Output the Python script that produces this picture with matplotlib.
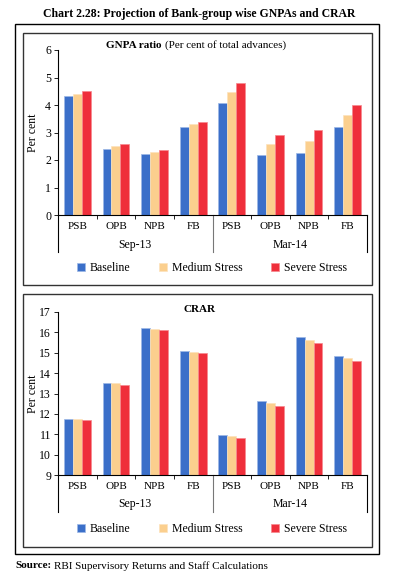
import matplotlib.pyplot as plt
import numpy as np
from matplotlib.patches import Rectangle
from matplotlib.transforms import blended_transform_factory

# data
categories = ["PSB", "OPB", "NPB", "FB", "PSB", "OPB", "NPB", "FB"]
periods = ["Sep-13", "Mar-14"]
series = ["Baseline", "Medium Stress", "Severe Stress"]

gnpa_baseline = [4.33, 2.41, 2.22, 3.21, 4.06, 2.19, 2.27, 3.19]
gnpa_medium = [4.40, 2.50, 2.30, 3.31, 4.47, 2.58, 2.69, 3.64]
gnpa_severe = [4.50, 2.58, 2.36, 3.38, 4.79, 2.90, 3.09, 4.01]

crar_baseline = [11.75, 13.50, 16.20, 15.08, 10.96, 12.65, 15.78, 14.86]
crar_medium = [11.75, 13.50, 16.18, 15.06, 10.90, 12.52, 15.65, 14.72]
crar_severe = [11.70, 13.40, 16.12, 15.00, 10.82, 12.39, 15.50, 14.59]

colors = ["#3b6fc9", "#fbcf8e", "#ef2f3b"]
edges = ["#9db8e6", "#fde3bd", "#f7888e"]

plt.rcParams["font.family"] = ["Liberation Serif", "DejaVu Serif"]
W, H = 399, 582
fig = plt.figure(figsize=(W / 100, H / 100), dpi=100)


def fx(px):
    return px / W


def fy(py):
    return 1 - py / H


def draw_panel(ax, values, ylim, yticks):
    x = np.arange(len(categories))
    w = 0.23
    for i, vals in enumerate(values):
        ax.bar(x + (i - 1) * w, vals, w, color=colors[i], edgecolor=edges[i],
               linewidth=0.5, label=series[i], zorder=2)
    ax.set_xlim(-0.5, len(categories) - 0.5)
    ax.set_ylim(*ylim)
    ax.set_yticks(yticks)
    ax.tick_params(axis="y", labelsize=8.5, length=3, width=0.6, pad=2)
    ax.set_xticks(x)
    ax.set_xticklabels(categories, fontsize=8)
    ax.tick_params(axis="x", length=0, pad=5)
    ax.set_xticks(np.arange(0.5, len(categories) - 1, 1), minor=True)
    ax.tick_params(axis="x", which="minor", length=3, width=0.6)
    for s in ["top", "right"]:
        ax.spines[s].set_visible(False)
    ax.spines["left"].set_linewidth(0.8)
    ax.spines["bottom"].set_linewidth(0.8)
    ax.set_ylabel("Per cent", fontsize=8.5)
    ax.yaxis.set_label_coords(-0.062, 0.5)
    tr = blended_transform_factory(ax.transData, ax.transAxes)
    ext = -0.225
    ax.plot([-0.5, -0.5], [0, ext], color="black", lw=0.8, transform=tr, clip_on=False)
    ax.plot([7.5, 7.5], [0, ext], color="black", lw=0.8, transform=tr, clip_on=False)
    ax.plot([3.5, 3.5], [0, ext], color="#777777", lw=0.8, transform=tr, clip_on=False)
    for j, p in enumerate(periods):
        ax.text(1.5 + 4 * j, -0.18, p, transform=tr, ha="center", va="center", fontsize=8.5)
    return ax


# frames
fig.patches.append(Rectangle((fx(15), fy(554)), fx(364), (554 - 24) / H, fill=False,
                             edgecolor="black", lw=1.0, transform=fig.transFigure))
for top, bot in [(33, 285), (294, 547)]:
    fig.patches.append(Rectangle((fx(23), fy(bot)), fx(349), (bot - top) / H, fill=False,
                                 edgecolor="#333333", lw=1.0, transform=fig.transFigure))

ax1 = fig.add_axes([fx(58), fy(215), fx(309), (215 - 50) / H])
draw_panel(ax1, [gnpa_baseline, gnpa_medium, gnpa_severe], (0, 6), range(0, 7))
ax2 = fig.add_axes([fx(58), fy(475), fx(309), (475 - 312) / H])
draw_panel(ax2, [crar_baseline, crar_medium, crar_severe], (9, 17), range(9, 18))

for ax, ly in [(ax1, 268), (ax2, 529)]:
    h, l = ax.get_legend_handles_labels()
    fig.legend(h, l, loc="center", bbox_to_anchor=(fx(212), fy(ly)), ncol=3, frameon=False,
               fontsize=8.5, handlelength=0.7, handleheight=0.7, columnspacing=2.4,
               handletextpad=0.4)

fig.text(fx(162), fy(45), "GNPA ratio", ha="right", va="center", fontsize=8, fontweight="bold")
fig.text(fx(165), fy(45), "(Per cent of total advances)", ha="left", va="center", fontsize=8)
fig.text(fx(200), fy(309), "CRAR", ha="center", va="center", fontsize=8, fontweight="bold")

fig.text(0.5, fy(14), "Chart 2.28: Projection of Bank-group wise GNPAs and CRAR",
         ha="center", va="center", fontsize=8.5, fontweight="bold")
src = fig.text(fx(15), fy(566), "Source:", ha="left", va="center", fontsize=8, fontweight="bold")
fig.canvas.draw()
bb = src.get_window_extent()
fig.text((bb.x1 + 3) / W, fy(566), "RBI Supervisory Returns and Staff Calculations", ha="left",
         va="center", fontsize=8)

fig.savefig("out.png", dpi=100)
